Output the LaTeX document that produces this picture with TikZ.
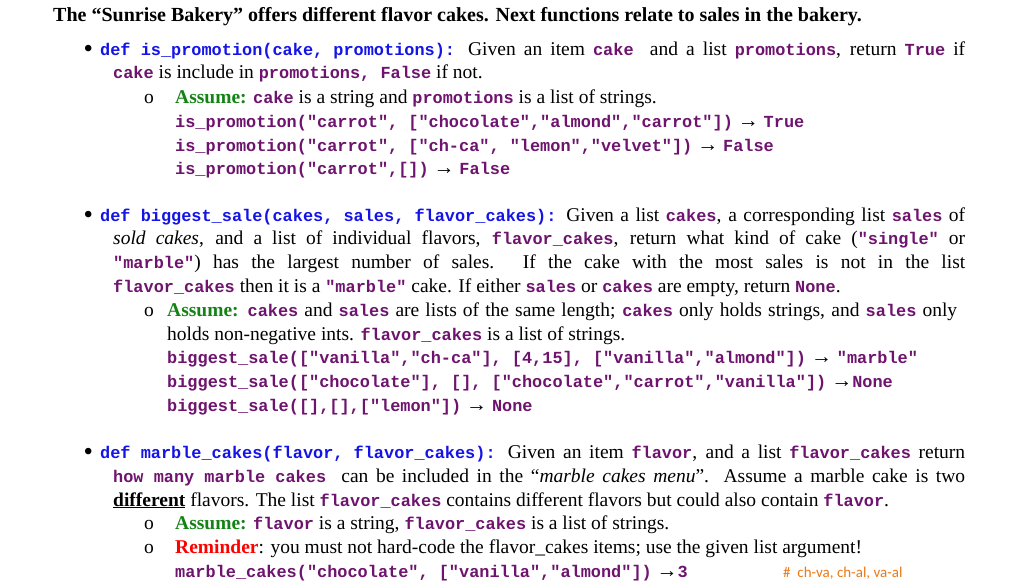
\documentclass[tikz,border=0pt]{standalone}
\usepackage{fontspec}
\setmainfont{Liberation Serif}
\setmonofont{Liberation Mono}
\newfontfamily\cmtfont{Carlito}
\definecolor{kwblue}{RGB}{20,20,230}
\definecolor{pvio}{RGB}{110,20,110}
\definecolor{grn}{RGB}{20,130,20}
\definecolor{org}{RGB}{235,120,20}
\newcommand\kw[1]{{\fontsize{16.9}{20}\ttfamily\bfseries\color{kwblue}#1}}
\newcommand\pv[1]{{\fontsize{16.9}{20}\ttfamily\bfseries\color{pvio}#1}}
\newcommand\ar{{\fontsize{21}{20}\selectfont\char"2192}}
\newcommand\asm{\textcolor{grn}{\textbf{Assume:}}}
\newcommand\bul{{\fontsize{24}{20}\selectfont\textbf{•}}}
\begin{document}
\begin{tikzpicture}[x=1pt,y=-1pt,
  every node/.style={inner sep=0pt,anchor=base west,font=\fontsize{19.5}{20}\selectfont}]
\useasboundingbox (0,0) rectangle (1024,587);
\node (t) at (53,21) {\fontsize{20}{20}\selectfont\textbf{The “Sunrise Bakery” offers different flavor cakes. Next functions relate to sales in the bakery.}};
% block 1
\node (b1) at (84,56) {\bul};
\node (l1) at (100,55) {\makebox[865pt][s]{\kw{def is\_promotion(cake, promotions):} Given an item \pv{cake} \ and a list \pv{promotions}, return \pv{True} if}};
\node (l2) at (113,78) {\pv{cake} is include in \pv{promotions, False} if not.};
\node (o1) at (144,103) {o};
\node (l3) at (175,103) {\asm{} \pv{cake} is a string and \pv{promotions} is a list of strings.};
\node (l4) at (175,127) {\pv{is\_promotion("carrot", ["chocolate","almond","carrot"])} \ar{} \pv{True}};
\node (l5) at (175,151) {\pv{is\_promotion("carrot", ["ch-ca", "lemon","velvet"])} \ar{} \pv{False}};
\node (l6) at (175,174) {\pv{is\_promotion("carrot",[])} \ar{} \pv{False}};
% block 2
\node (b2) at (84,222) {\bul};
\node (m1) at (100,221) {\makebox[865pt][s]{\kw{def biggest\_sale(cakes, sales, flavor\_cakes):} Given a list \pv{cakes}, a corresponding list \pv{sales} of}};
\node (m2) at (113,244) {\makebox[852pt][s]{\textit{sold cakes}, and a list of individual flavors, \pv{flavor\_cakes}, return what kind of cake (\pv{"single"} or}};
\node (m3) at (113,268) {\makebox[852pt][s]{\pv{"marble"}) has the largest number of sales. If the cake with the most sales is not in the list}};
\node (m4) at (113,292) {\pv{flavor\_cakes} then it is a \pv{"marble"} cake. If either \pv{sales} or \pv{cakes} are empty, return \pv{None}.};
\node (o2) at (144,316) {o};
\node (m5) at (167,316) {\makebox[790pt][s]{\asm{} \pv{cakes} and \pv{sales} are lists of the same length; \pv{cakes} only holds strings, and \pv{sales} only}};
\node (m6) at (167,340) {holds non-negative ints. \pv{flavor\_cakes} is a list of strings.};
\node (m7) at (167,363) {\pv{biggest\_sale(["vanilla","ch-ca"], [4,15], ["vanilla","almond"])} \ar{} \pv{"marble"}};
\node (m8) at (167,387) {\pv{biggest\_sale(["chocolate"], [], ["chocolate","carrot","vanilla"])} \ar{}\pv{None}};
\node (m9) at (167,411) {\pv{biggest\_sale([],[],["lemon"])} \ar{} \pv{None}};
% block 3
\node (b3) at (84,459) {\bul};
\node (n1) at (100,458) {\makebox[865pt][s]{\kw{def marble\_cakes(flavor, flavor\_cakes):} Given an item \pv{flavor}, and a list \pv{flavor\_cakes} return}};
\node (n2) at (113,482) {\makebox[852pt][s]{\pv{how many marble cakes} \ can be included in the “\textit{marble cakes menu}”. Assume a marble cake is two}};
\node (n3) at (113,506) {\underline{\textbf{different}} flavors. The list \pv{flavor\_cakes} contains different flavors but could also contain \pv{flavor}.};
\node (o3) at (144,529) {o};
\node (n4) at (175,529) {\asm{} \pv{flavor} is a string, \pv{flavor\_cakes} is a list of strings.};
\node (o4) at (144,553) {o};
\node (n5) at (175,553) {\textcolor{red}{\textbf{Reminder}}: you must not hard-code the flavor\_cakes items; use the given list argument!};
\node (n6) at (175,577) {\pv{marble\_cakes("chocolate", ["vanilla","almond"])} \ar{}\pv{3}};
\node (c1) at (783,577) {\cmtfont\fontsize{15}{18}\selectfont\color{org}\#\ \ ch-va, ch-al, va-al};
\end{tikzpicture}
\end{document}
